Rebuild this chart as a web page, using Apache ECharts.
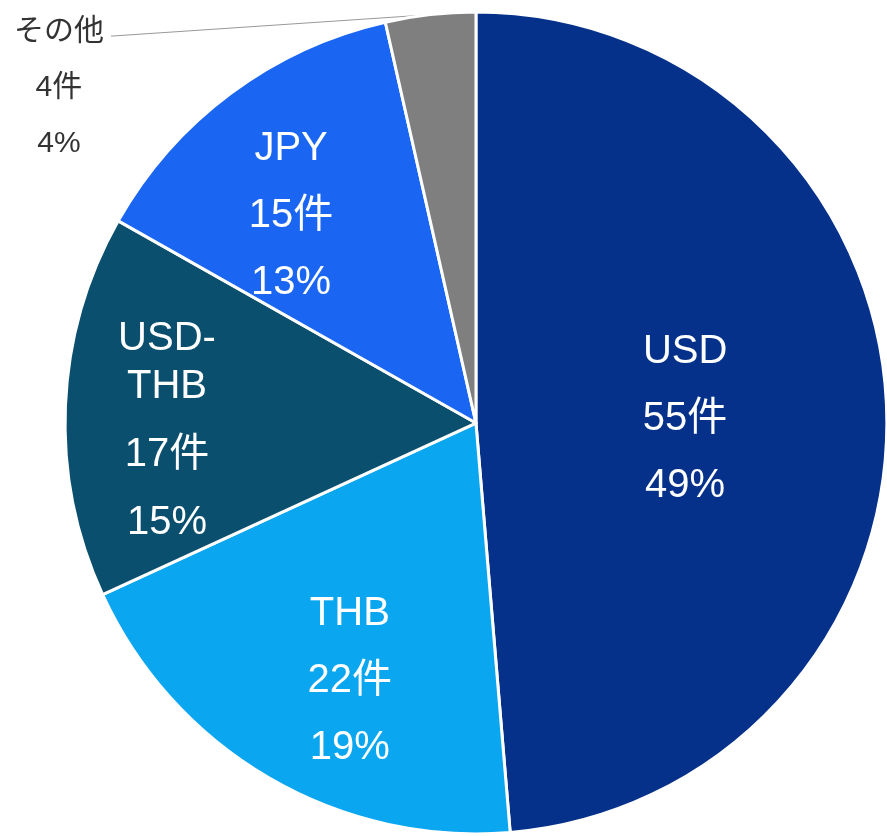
<!DOCTYPE html>
<html>
<head>
<meta charset="utf-8">
<script src="https://cdn.jsdelivr.net/npm/echarts@6/dist/echarts.min.js"></script>
<style>
  html, body { margin: 0; padding: 0; background: #fff; }
  #main { width: 887px; height: 836px; }
</style>
</head>
<body>
<div id="main"></div>
<script>
// data
const categories = ['USD', 'THB', 'USD-THB', 'JPY', 'その他'];
const counts = [55, 22, 17, 15, 4];
const colors = ['#06318A', '#0BA6F0', '#0A4F6E', '#1A66F2', '#7F7F7F'];
// label block centre, as fraction of radius from the pie centre [dx, dy]
const labelPos = [[0.509, -0.011], [-0.307, 0.628], [-0.752, 0.044], [-0.450, -0.505], [-1.015, -0.815]];

let chart = echarts.init(document.getElementById('main'));

const font = "'Liberation Sans', Arial, 'Noto Sans CJK JP', sans-serif";

let data = categories.map(function (c, i) {
  let item = {
    name: c,
    value: counts[i],
    itemStyle: { color: colors[i] }
  };
  if (i === 4) {
    item.label = {
      position: 'outside',
      color: '#333',
      fontFamily: font,
      fontSize: 30,
      lineHeight: 56,
      align: 'center'
    };
    item.labelLine = { show: true, lineStyle: { color: '#999', width: 1 } };
  }
  return item;
});

let option = {
  backgroundColor: '#fff',
  animation: false,
  series: [{
    type: 'pie',
    radius: ['0%', '98.3%'],
    center: ['53.66%', '50.6%'],
    startAngle: 90,
    clockwise: true,
    data: data,
    itemStyle: {
      borderColor: '#fff',
      borderWidth: 3
    },
    label: {
      show: true,
      position: 'inside',
      color: '#fff',
      fontFamily: font,
      fontSize: 40,
      lineHeight: 67,
      align: 'center',
      formatter: function (p) {
        let pct = Math.round(p.percent) + '%';
        if (p.name === 'USD-THB') {
          return '{a|USD-}\n{b|THB}\n{b|' + p.value + '件}\n{b|' + pct + '}';
        }
        return p.name + '\n' + p.value + '件\n' + pct;
      },
      rich: {
        a: { color: '#fff', fontFamily: font, fontSize: 40, lineHeight: 28 },
        b: { color: '#fff', fontFamily: font, fontSize: 40, lineHeight: 68 }
      }
    },
    labelLine: { show: false },
    labelLayout: function (p) {
      let lay = chart.getModel().getSeriesByIndex(0).getData().getItemLayout(p.dataIndex);
      if (!lay) return {};
      let pos = labelPos[p.dataIndex];
      let x = lay.cx + pos[0] * lay.r;
      let y = lay.cy + pos[1] * lay.r;
      let out = { x: x, y: y, align: 'center', verticalAlign: 'middle' };
      if (p.dataIndex === 4) {
        let mid = (lay.startAngle + lay.endAngle) / 2;
        out.labelLinePoints = [
          [lay.cx + Math.cos(mid) * lay.r, lay.cy + Math.sin(mid) * lay.r],
          [x + 52, y - 52]
        ];
      }
      return out;
    }
  }]
};

chart.setOption(option);
window.addEventListener('resize', function () {
  chart.resize();
});
</script>
</body>
</html>
